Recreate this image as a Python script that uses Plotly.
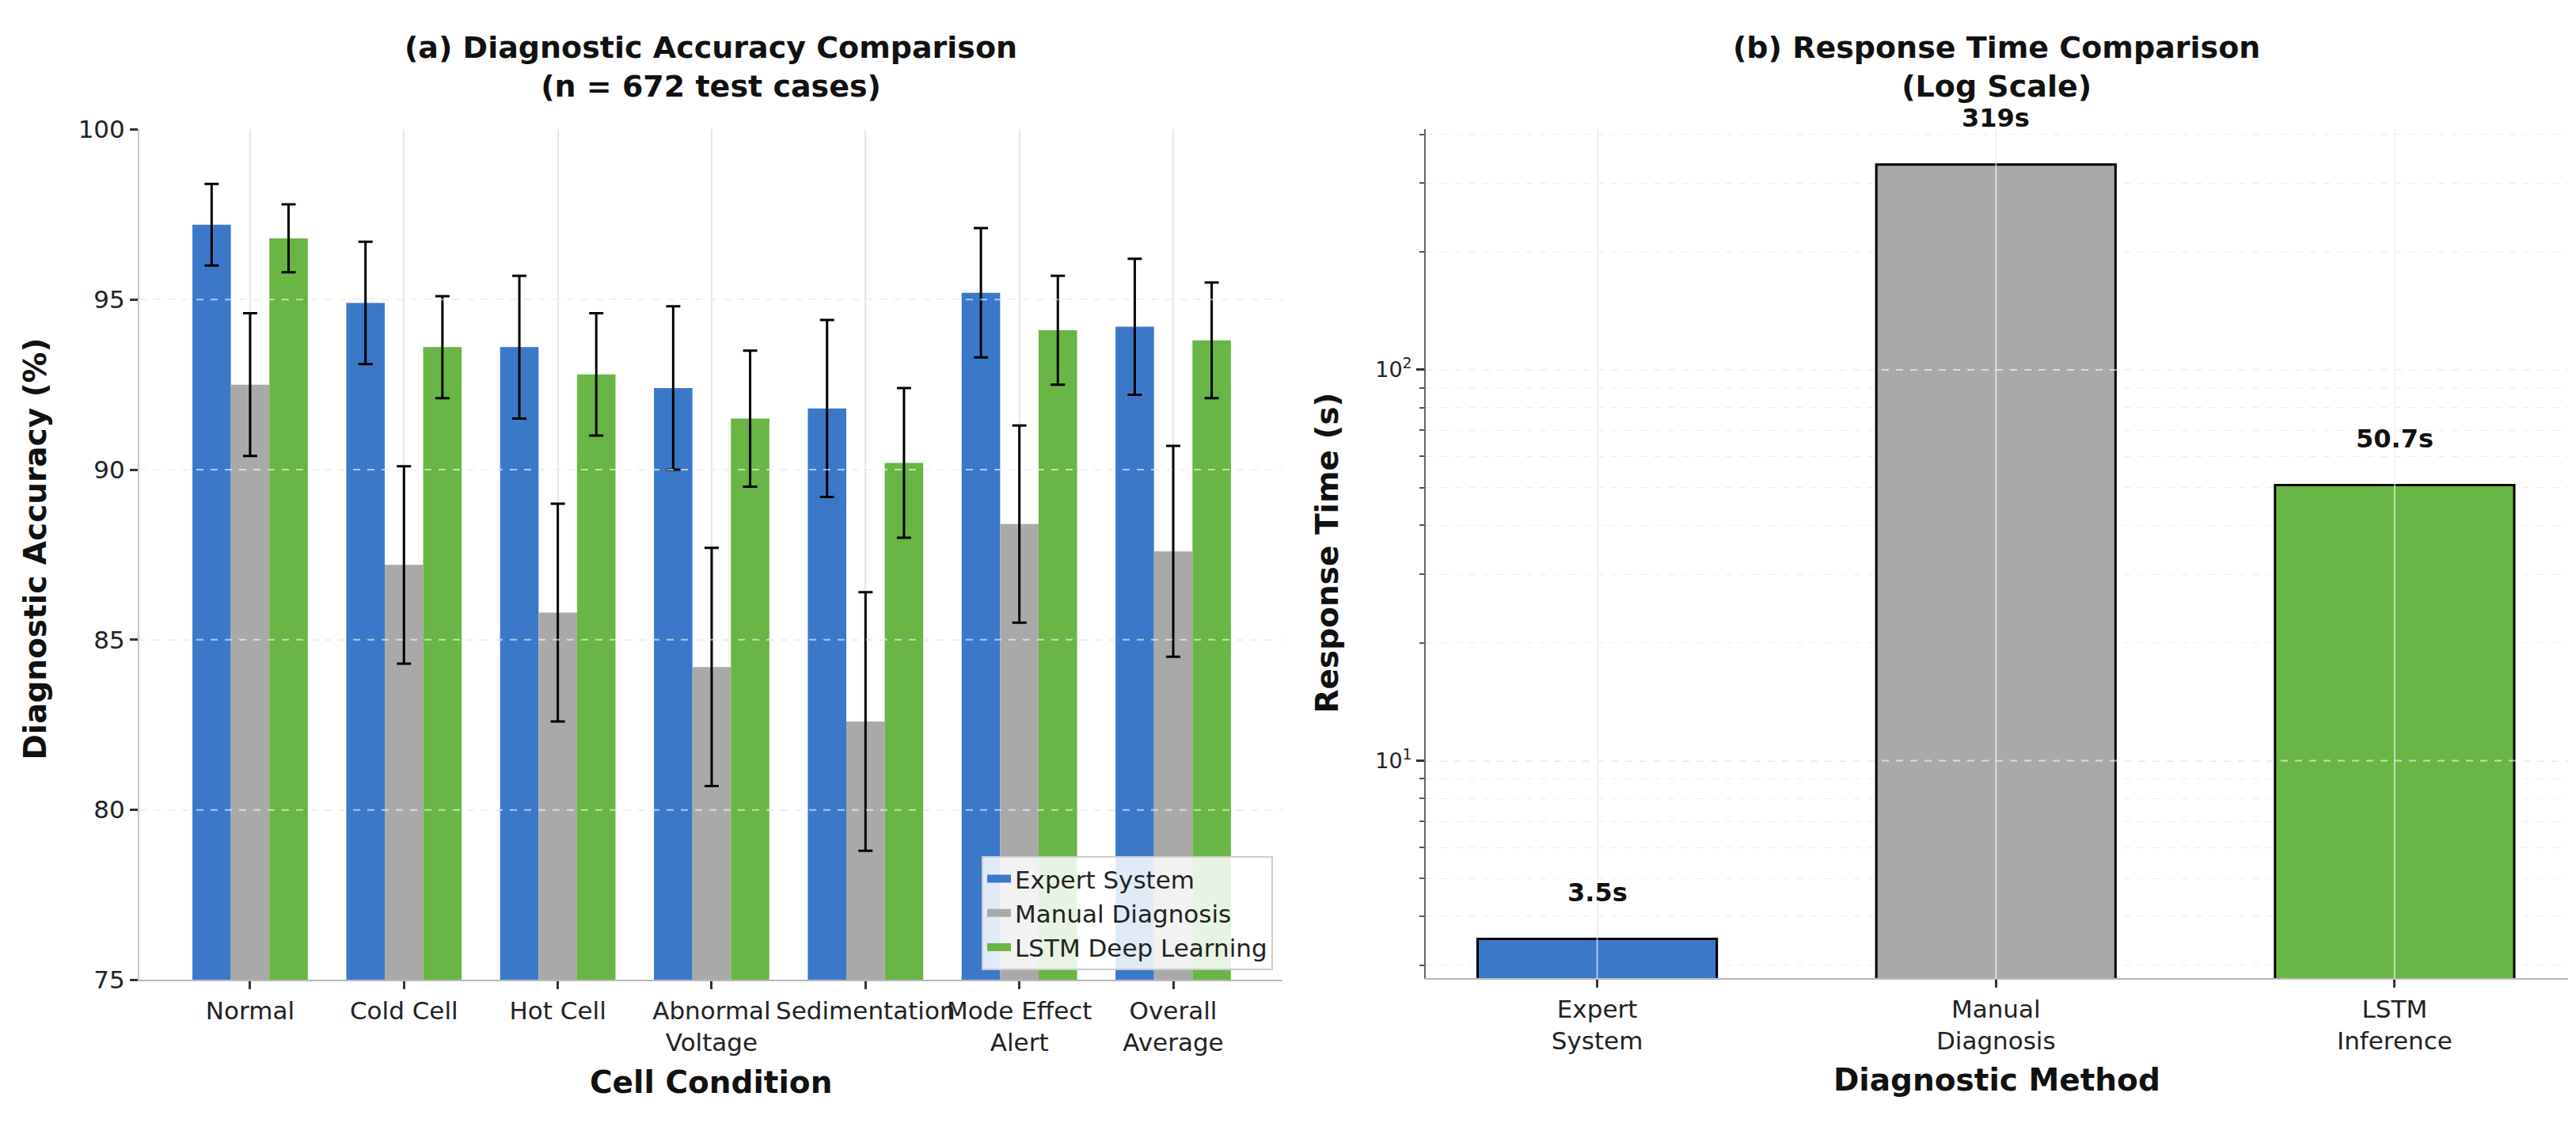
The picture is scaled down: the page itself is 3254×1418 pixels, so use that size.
import numpy as np
import plotly.graph_objects as go

# ---- data: panel (a) accuracy by cell condition ----
conditions = ["Normal", "Cold Cell", "Hot Cell", "Abnormal<br>Voltage",
              "Sedimentation", "Mode Effect<br>Alert", "Overall<br>Average"]
expert_acc = [97.2, 94.9, 93.6, 92.4, 91.8, 95.2, 94.2]
expert_err = [1.2, 1.8, 2.1, 2.4, 2.6, 1.9, 2.0]
manual_acc = [92.5, 87.2, 85.8, 84.2, 82.6, 88.4, 87.6]
manual_err = [2.1, 2.9, 3.2, 3.5, 3.8, 2.9, 3.1]
lstm_acc = [96.8, 93.6, 92.8, 91.5, 90.2, 94.1, 93.8]
lstm_err = [1.0, 1.5, 1.8, 2.0, 2.2, 1.6, 1.7]
acc_ticks = [75, 80, 85, 90, 95, 100]

# ---- data: panel (b) response time ----
methods = ["Expert<br>System", "Manual<br>Diagnosis", "LSTM<br>Inference"]
resp_time = [3.5, 335, 50.7]   # bar heights as drawn
resp_labels = ["3.5s", "319s", "50.7s"]
log_ticks = [10, 100]
log_ticktext = ["10<sup>1</sup>", "10<sup>2</sup>"]

BLUE = "#3B78C8"
GRAY = "#A9A9A9"
GREEN = "#69B545"
FONT = "DejaVu Sans"
W, H = 3254, 1418

fig = go.Figure()

series = [("Expert System", expert_acc, expert_err, BLUE),
          ("Manual Diagnosis", manual_acc, manual_err, GRAY),
          ("LSTM Deep Learning", lstm_acc, lstm_err, GREEN)]
for name, vals, errs, col in series:
    fig.add_trace(go.Bar(
        x=conditions, y=vals, name=name, showlegend=False,
        marker=dict(color=col, line=dict(width=0)),
        error_y=dict(type="data", array=errs, color="black", thickness=3, width=9),
        xaxis="x", yaxis="y",
    ))
# legend entries drawn as wide patches (matplotlib style)
for name, vals, errs, col in series:
    fig.add_trace(go.Scatter(
        x=[None], y=[None], mode="lines", name=name,
        line=dict(color=col, width=24), xaxis="x", yaxis="y",
    ))

fig.add_trace(go.Bar(
    x=methods, y=resp_time, width=0.6, showlegend=False,
    marker=dict(color=[BLUE, GRAY, GREEN], line=dict(color="black", width=3)),
    xaxis="x2", yaxis="y2",
))

# dashed grid drawn over the bars (whitish), like the original
for t in acc_ticks[1:-1]:
    fig.add_shape(type="line", xref="x domain", yref="y", x0=0, x1=1, y0=t, y1=t,
                  line=dict(color="rgba(255,255,255,0.6)", width=2, dash="dash"), layer="above")
for t in log_ticks:
    fig.add_shape(type="line", xref="x2 domain", yref="y2", x0=0, x1=1, y0=t, y1=t,
                  line=dict(color="rgba(255,255,255,0.6)", width=2, dash="dash"), layer="above")
for c in methods:
    fig.add_shape(type="line", xref="x2", yref="y2 domain", x0=c, x1=c, y0=0, y1=1,
                  line=dict(color="rgba(255,255,255,0.6)", width=2), layer="above")

# value labels on the response time bars
for m, v, lab in zip(methods, resp_time, resp_labels):
    fig.add_annotation(x=m, y=np.log10(v), xref="x2", yref="y2", text="<b>%s</b>" % lab,
                       showarrow=False, yanchor="bottom", yshift=38,
                       font=dict(family=FONT, size=32, color="#111"))

def px(x):
    return x / W

def py(y):
    return 1 - y / H

# titles
titles = [
    (890, "<b>(a) Diagnostic Accuracy Comparison</b><br><b>(n = 672 test cases)</b>"),
    (2514, "<b>(b) Response Time Comparison</b><br><b>(Log Scale)</b>"),
]
for xc, txt in titles:
    fig.add_annotation(x=px(xc), y=py(60), xref="paper", yref="paper", text=txt,
                       showarrow=False, xanchor="center", yanchor="middle",
                       font=dict(family=FONT, size=38, color="#111"))

axis_titles = [
    (37, 685, "<b>Diagnostic Accuracy (%)</b>", -90),
    (1668, 690, "<b>Response Time (s)</b>", -90),
    (890, 1375, "<b>Cell Condition</b>", 0),
    (2514, 1372, "<b>Diagnostic Method</b>", 0),
]
for xc, yc, txt, ang in axis_titles:
    fig.add_annotation(x=px(xc), y=py(yc), xref="paper", yref="paper", text=txt,
                       showarrow=False, xanchor="center", yanchor="middle", textangle=ang,
                       font=dict(family=FONT, size=39, color="#111"))

tickfont = dict(family=FONT, size=31, color="#222")
minor_vals = [m * 10 ** e for e in (0, 1, 2) for m in range(2, 10) if 2.7 < m * 10 ** e < 420]

fig.update_layout(
    width=W, height=H,
    margin=dict(l=0, r=0, t=0, b=0),
    paper_bgcolor="white", plot_bgcolor="white",
    barmode="group", bargap=0.25, bargroupgap=0,
    font=dict(family=FONT, size=31, color="#222"),
    xaxis=dict(domain=[px(168), px(1612)], range=[-0.72, 6.71], tickfont=tickfont,
               tickangle=0, showgrid=True, gridcolor="#e6e6e6", gridwidth=2,
               showline=True, linecolor="#b8b8b8", linewidth=2,
               ticks="outside", ticklen=10, tickwidth=3, tickcolor="#333"),
    yaxis=dict(domain=[py(1243), py(141)], range=[75, 100], tickvals=acc_ticks,
               tickfont=tickfont, showgrid=True, gridcolor="#dedede", gridwidth=2,
               griddash="dash", zeroline=False,
               showline=True, linecolor="#c8c8c8", linewidth=2,
               ticks="outside", ticklen=10, tickwidth=3, tickcolor="#333"),
    xaxis2=dict(domain=[px(1793), px(3236)], range=[-0.43, 2.435], anchor="y2",
                tickfont=tickfont, tickangle=0, showgrid=True, gridcolor="#e6e6e6", gridwidth=2,
                showline=True, linecolor="#b8b8b8", linewidth=2,
                ticks="outside", ticklen=10, tickwidth=3, tickcolor="#333"),
    yaxis2=dict(domain=[py(1241), py(141)], type="log", range=[0.443, 2.615], anchor="x2",
                tickvals=log_ticks, ticktext=log_ticktext,
                tickfont=dict(family=FONT, size=27, color="#222"),
                showgrid=True, gridcolor="#dedede", gridwidth=2, griddash="dash",
                showline=True, linecolor="#666", linewidth=2,
                ticks="outside", ticklen=10, tickwidth=3, tickcolor="#333",
                minor=dict(tickvals=minor_vals, ticks="outside", ticklen=6, tickwidth=2,
                           tickcolor="#555", showgrid=True, gridcolor="#ededed",
                           gridwidth=1, griddash="dash")),
    legend=dict(x=px(1600), y=py(1230), xanchor="right", yanchor="bottom",
                bgcolor="rgba(255,255,255,0.85)", bordercolor="#cccccc", borderwidth=2,
                font=dict(family=FONT, size=31, color="#222"),
                tracegroupgap=0),
)

fig.write_html("out.html")
